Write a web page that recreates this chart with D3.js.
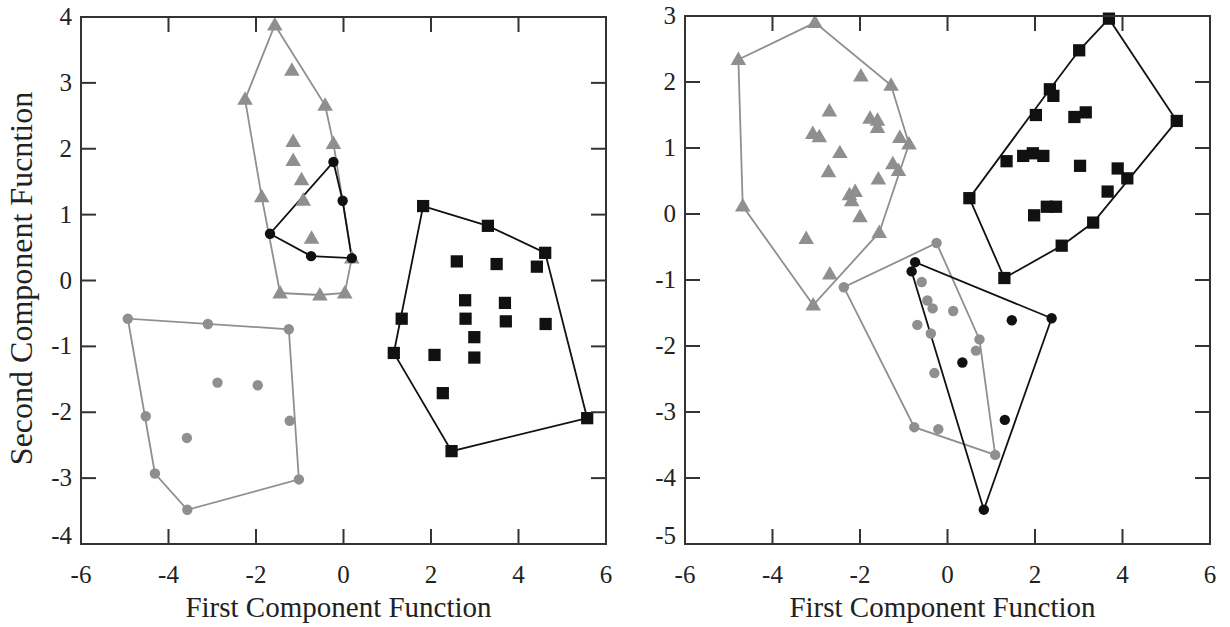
<!DOCTYPE html>
<html>
<head>
<meta charset="utf-8">
<script src="https://cdn.jsdelivr.net/npm/d3@7"></script>
<style>
  body { margin: 0; background: #fff; }
  svg text { font-family: "Liberation Serif", "DejaVu Serif", serif; fill: #222; }
</style>
</head>
<body>
<svg id="chart" width="1230" height="627"></svg>
<script>
// left panel groups
var leftTriangles = [
    [-1.57, 3.88], [-1.18, 3.19], [-2.25, 2.75], [-0.42, 2.66], [-1.15, 2.11], [-0.23, 2.08],
    [-1.15, 1.82], [-0.96, 1.53], [-1.87, 1.27], [-0.92, 1.22], [-0.73, 0.64], [0.19, 0.34],
    [-1.45, -0.19], [-0.54, -0.22], [0.03, -0.19]
];
var leftBlackCircles = [[-0.23, 1.80], [-0.02, 1.21], [-1.68, 0.71], [-0.74, 0.37], [0.19, 0.34]];
var leftSquares = [
    [1.82, 1.13], [3.30, 0.83], [4.61, 0.42], [2.59, 0.29], [3.50, 0.25], [4.42, 0.21],
    [2.78, -0.30], [3.69, -0.34], [1.33, -0.58], [2.79, -0.58], [3.71, -0.62], [4.62, -0.66],
    [2.99, -0.86], [1.15, -1.10], [2.08, -1.13], [2.99, -1.17], [2.27, -1.71], [5.57, -2.09],
    [2.47, -2.59]
];
var leftGrayCircles = [
    [-4.93, -0.58], [-3.10, -0.66], [-1.25, -0.74], [-2.88, -1.55], [-1.96, -1.59],
    [-4.52, -2.06], [-1.23, -2.13], [-3.58, -2.39], [-4.31, -2.93], [-1.02, -3.02], [-3.57, -3.48]
];

// right panel groups
var rightTriangles = [
    [-3.03, 2.90], [-4.78, 2.34], [-1.98, 2.09], [-1.29, 1.95], [-2.70, 1.56], [-1.77, 1.45],
    [-1.60, 1.42], [-1.60, 1.31], [-3.08, 1.22], [-2.93, 1.17], [-1.09, 1.16], [-0.88, 1.06],
    [-2.46, 0.93], [-1.25, 0.76], [-1.12, 0.66], [-2.72, 0.64], [-1.58, 0.53], [-2.24, 0.29],
    [-2.11, 0.34], [-2.19, 0.20], [-2.00, -0.04], [-4.68, 0.12], [-1.56, -0.28], [-3.23, -0.37],
    [-2.69, -0.91], [-3.07, -1.38]
];
var rightSquares = [
    [3.69, 2.96], [3.01, 2.48], [2.34, 1.89], [2.42, 1.79], [2.02, 1.50], [2.90, 1.47],
    [3.16, 1.54], [5.24, 1.41], [1.35, 0.80], [1.73, 0.88], [1.95, 0.92], [2.19, 0.88],
    [3.03, 0.73], [3.89, 0.69], [4.11, 0.54], [0.50, 0.24], [3.66, 0.34], [1.98, -0.02],
    [2.27, 0.11], [2.48, 0.11], [3.33, -0.13], [2.61, -0.48], [1.30, -0.97]
];
var rightBlackCircles = [
    [-0.74, -0.73], [-0.82, -0.87], [1.47, -1.61], [2.38, -1.58], [0.34, -2.25], [1.31, -3.12], [0.83, -4.48]
];
var rightGrayCircles = [
    [-0.25, -0.44], [-2.37, -1.11], [-0.59, -1.03], [-0.46, -1.31], [-0.34, -1.43], [0.13, -1.47],
    [-0.69, -1.68], [-0.38, -1.81], [0.73, -1.90], [0.65, -2.07], [-0.30, -2.41], [-0.76, -3.23],
    [-0.21, -3.26], [1.09, -3.65]
];

var xTicks = [-6, -4, -2, 0, 2, 4, 6];
var leftYTicks = [-4, -3, -2, -1, 0, 1, 2, 3, 4];
var rightYTicks = [-5, -4, -3, -2, -1, 0, 1, 2, 3];

var GRAY = "#8f8f8f";
var BLACK = "#111";

var svg = d3.select("#chart");

function drawPanel(box, yDomain, yTicks, groups, showYTitle) {
    var x = d3.scaleLinear().domain([-6, 6]).range([box.left, box.right]);
    var y = d3.scaleLinear().domain(yDomain).range([box.bottom, box.top]);
    var g = svg.append("g");
    var tickLen = 15;

    // hulls first, markers on top
    groups.forEach(function (grp) {
        var hull = d3.polygonHull(grp.data.map(function (d) { return [x(d[0]), y(d[1])]; }));
        g.append("path")
            .attr("d", "M" + hull.join("L") + "Z")
            .attr("fill", "none")
            .attr("stroke", grp.color)
            .attr("stroke-width", 1.8);
    });

    groups.forEach(function (grp) {
        var sym = grp.shape === "square" ? d3.symbolSquare : grp.shape === "triangle" ? d3.symbolTriangle : d3.symbolCircle;
        var size = grp.shape === "square" ? 150 : grp.shape === "triangle" ? 105 : 85;
        g.selectAll(null)
            .data(grp.data)
            .enter().append("path")
            .attr("d", d3.symbol().type(sym).size(size))
            .attr("transform", function (d) {
                var dy = grp.shape === "triangle" ? 1 : 0;
                return "translate(" + x(d[0]) + "," + (y(d[1]) + dy) + ")";
            })
            .attr("fill", grp.color);
    });

    // frame
    g.append("rect")
        .attr("x", box.left).attr("y", box.top)
        .attr("width", box.right - box.left).attr("height", box.bottom - box.top)
        .attr("fill", "none").attr("stroke", "#333").attr("stroke-width", 2);

    // inward ticks on all four sides
    var inner = xTicks.slice(1, -1);
    g.selectAll(null).data(inner).enter().append("line")
        .attr("x1", x).attr("x2", x)
        .attr("y1", box.bottom).attr("y2", box.bottom - tickLen)
        .attr("stroke", "#333").attr("stroke-width", 2);
    g.selectAll(null).data(inner).enter().append("line")
        .attr("x1", x).attr("x2", x)
        .attr("y1", box.top).attr("y2", box.top + tickLen)
        .attr("stroke", "#333").attr("stroke-width", 2);
    var innerY = yTicks.slice(1, -1);
    g.selectAll(null).data(innerY).enter().append("line")
        .attr("y1", y).attr("y2", y)
        .attr("x1", box.left).attr("x2", box.left + tickLen)
        .attr("stroke", "#333").attr("stroke-width", 2);
    g.selectAll(null).data(innerY).enter().append("line")
        .attr("y1", y).attr("y2", y)
        .attr("x1", box.right).attr("x2", box.right - tickLen)
        .attr("stroke", "#333").attr("stroke-width", 2);

    // tick labels
    g.selectAll(null).data(xTicks).enter().append("text")
        .attr("x", x).attr("y", box.bottom + 39)
        .attr("text-anchor", "middle")
        .attr("font-size", 25)
        .text(function (d) { return d; });
    g.selectAll(null).data(yTicks).enter().append("text")
        .attr("x", box.left - 9)
        .attr("y", function (d, i) { return y(d) + (i === 0 ? 0 : 8); })
        .attr("text-anchor", "end")
        .attr("font-size", 25)
        .text(function (d) { return d; });

    g.append("text")
        .attr("x", (box.left + box.right) / 2 - 5)
        .attr("y", box.bottom + 73)
        .attr("text-anchor", "middle")
        .attr("font-size", 29)
        .text("First Component Function");

    if (showYTitle) {
        g.append("text")
            .attr("transform", "translate(" + 32 + "," + ((box.top + box.bottom) / 2 - 2) + ") rotate(-90)")
            .attr("text-anchor", "middle")
            .attr("font-size", 32)
            .text("Second Component Fucntion");
    }
}

drawPanel({ left: 81, right: 606, top: 17, bottom: 544 }, [-4, 4], leftYTicks, [
    { data: leftGrayCircles, color: GRAY, shape: "circle" },
    { data: leftTriangles, color: GRAY, shape: "triangle" },
    { data: leftSquares, color: BLACK, shape: "square" },
    { data: leftBlackCircles, color: BLACK, shape: "circle" }
], true);

drawPanel({ left: 685, right: 1210, top: 16, bottom: 544 }, [-5, 3], rightYTicks, [
    { data: rightTriangles, color: GRAY, shape: "triangle" },
    { data: rightGrayCircles, color: GRAY, shape: "circle" },
    { data: rightSquares, color: BLACK, shape: "square" },
    { data: rightBlackCircles, color: BLACK, shape: "circle" }
], false);
</script>
</body>
</html>
